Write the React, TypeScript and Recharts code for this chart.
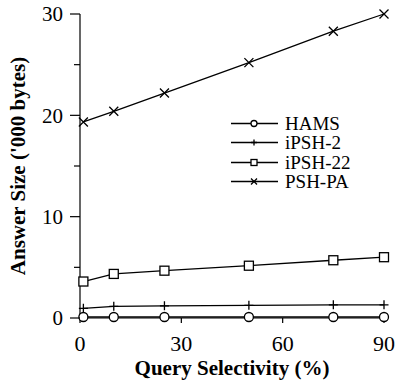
import React from "react";
import { LineChart, Line, XAxis, YAxis, Legend } from "recharts";

const selectivity = [1, 10, 25, 50, 75, 90];
const hams = [0.1, 0.1, 0.1, 0.1, 0.1, 0.1];
const ipsh2 = [0.95, 1.15, 1.2, 1.25, 1.3, 1.3];
const ipsh22 = [3.6, 4.35, 4.67, 5.16, 5.7, 6.0];
const pshPa = [19.35, 20.4, 22.2, 25.2, 28.3, 30.0];

const xTicks = [0, 30, 60, 90];
const yTicks = [0, 5, 10, 15, 20, 25, 30];

const data = selectivity.map((s, i) => ({
  s,
  hams: hams[i],
  ipsh2: ipsh2[i],
  ipsh22: ipsh22[i],
  pshPa: pshPa[i],
}));

const FONT = "'Liberation Serif', 'Times New Roman', serif";

type Shape = "circle" | "plus" | "square" | "cross";

const series: { key: string; name: string; shape: Shape }[] = [
  { key: "hams", name: "HAMS", shape: "circle" },
  { key: "ipsh2", name: "iPSH-2", shape: "plus" },
  { key: "ipsh22", name: "iPSH-22", shape: "square" },
  { key: "pshPa", name: "PSH-PA", shape: "cross" },
];

function Marker({ shape, cx, cy, r }: { shape: Shape; cx: number; cy: number; r: number }) {
  if (shape === "circle")
    return <circle cx={cx} cy={cy} r={r} fill="#fff" stroke="#000" strokeWidth={1.3} />;
  if (shape === "square")
    return (
      <rect x={cx - r} y={cy - r} width={r * 2} height={r * 2} fill="#fff" stroke="#000" strokeWidth={1.3} />
    );
  if (shape === "plus")
    return (
      <path d={`M${cx - r},${cy}H${cx + r}M${cx},${cy - r}V${cy + r}`} stroke="#000" strokeWidth={1.3} />
    );
  return (
    <path
      d={`M${cx - r},${cy - r}L${cx + r},${cy + r}M${cx - r},${cy + r}L${cx + r},${cy - r}`}
      stroke="#000"
      strokeWidth={1.3}
    />
  );
}

const makeDot = (shape: Shape) => (props: any) => {
  const { cx, cy, index } = props;
  if (cx == null || cy == null) return <g key={index} />;
  return (
    <g key={index}>
      <Marker shape={shape} cx={cx} cy={cy} r={4.5} />
    </g>
  );
};

// y ticks: labels at every 10, short minor ticks at the 5s
const Y_TICK_SIZE = 10;
const Y_TICK_GAP = 7;
const YTick = (props: any) => {
  const { x, y, payload } = props;
  const axisX = x + Y_TICK_SIZE + Y_TICK_GAP;
  const major = payload.value % 10 === 0;
  return (
    <g>
      <line x1={axisX - (major ? Y_TICK_SIZE : 6)} x2={axisX} y1={y} y2={y} stroke="#000" strokeWidth={1.2} />
      {major && (
        <text x={x} y={y} dy="0.35em" textAnchor="end" fontSize={21} fontFamily={FONT} fill="#000">
          {payload.value}
        </text>
      )}
    </g>
  );
};

const LegendContent = () => (
  <div style={{ fontFamily: FONT, fontSize: 19, lineHeight: "19px" }}>
    {series.map((s) => (
      <div key={s.key} style={{ display: "flex", alignItems: "center", height: 19.3 }}>
        <svg width={52} height={19} style={{ display: "block" }}>
          <line x1={2} x2={49} y1={9.5} y2={9.5} stroke="#000" strokeWidth={1.3} />
          <Marker shape={s.shape} cx={25} cy={9.5} r={3} />
        </svg>
        <span style={{ marginLeft: 4 }}>{s.name}</span>
      </div>
    ))}
  </div>
);

export default function App() {
  return (
    <div style={{ position: "absolute", left: 0, top: 0, background: "#fff" }}>
      <LineChart width={395} height={385} data={data} margin={{ top: 14, right: 11, left: 0, bottom: 0 }}>
        <XAxis
          dataKey="s"
          type="number"
          domain={[0, 90]}
          ticks={xTicks}
          height={67}
          tickSize={5}
          tickMargin={12}
          axisLine={{ stroke: "#000", strokeWidth: 1.2 }}
          tickLine={{ stroke: "#000", strokeWidth: 1.2 }}
          tick={{ fill: "#000", fontSize: 22, fontFamily: FONT }}
          label={{
            value: "Query Selectivity (%)",
            position: "insideBottom",
            offset: 10,
            fill: "#000",
            fontSize: 21,
            fontWeight: "bold",
            fontFamily: FONT,
          }}
        />
        <YAxis
          type="number"
          domain={[0, 30]}
          ticks={yTicks}
          width={80}
          tickSize={Y_TICK_SIZE}
          tickMargin={Y_TICK_GAP}
          tickLine={false}
          axisLine={{ stroke: "#000", strokeWidth: 1.2 }}
          tick={<YTick />}
          interval={0}
          label={{
            value: "Answer Size ('000 bytes)",
            angle: -90,
            position: "insideLeft",
            offset: 18,
            style: { textAnchor: "middle" },
            fill: "#000",
            fontSize: 21,
            fontWeight: "bold",
            fontFamily: FONT,
          }}
        />
        <Legend
          layout="vertical"
          verticalAlign="middle"
          align="center"
          wrapperStyle={{ left: 229, top: 114, width: 150 }}
          content={<LegendContent />}
        />
        {series.map((s) => (
          <Line
            key={s.key}
            dataKey={s.key}
            name={s.name}
            stroke="#000"
            strokeWidth={1.3}
            dot={makeDot(s.shape)}
            activeDot={false}
            isAnimationActive={false}
          />
        ))}
      </LineChart>
    </div>
  );
}
